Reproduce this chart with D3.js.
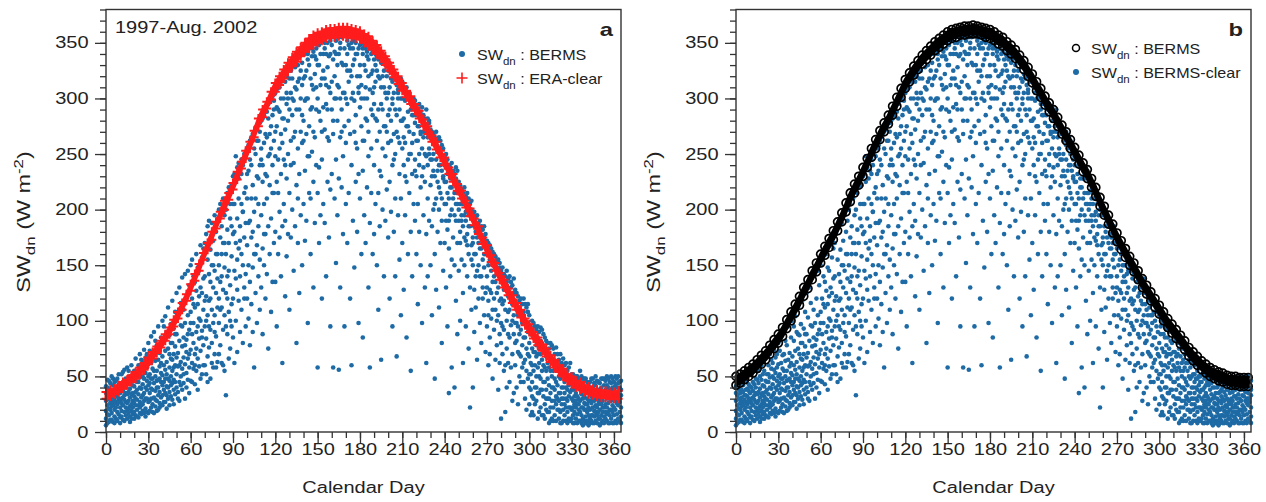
<!DOCTYPE html>
<html>
<head>
<meta charset="utf-8">
<script src="https://cdn.jsdelivr.net/npm/d3@7"></script>
<style>
  body { margin: 0; background: #fff; }
  svg text { font-family: "Liberation Sans", Arial, Helvetica, sans-serif; fill: #222; }
</style>
</head>
<body>
<svg id="chart" width="1266" height="502"></svg>
<script>
// observed daily SWdn at BERMS, one row per calendar day (index = day), one value per year
const BERMS_SW = [
  [12,28,41,19,35,6],[33,8,24,47,16,40],[21,38,15,30,46,9],[44,26,11,35,20,29],[17,31,50,23,38,11],[9,36,27,42,24,48],[29,14,45,20,8,33],[38,22,33,12,46,27],[25,48,18,39,10,32],[16,30,43,27,37,52],
  [22,41,13,35,8,29],[30,52,19,26,40,14],[45,11,37,24,31,54],[18,33,56,29,10,43],[40,15,27,48,22,35],[26,58,34,12,47,19],[36,21,44,17,28,55],[14,31,50,39,23,9],[47,25,19,60,34,12],[28,42,16,35,52,22],
  [32,55,18,41,26,12],[24,46,66,15,36,30],[38,20,52,29,45,14],[60,34,13,45,24,52],[27,49,70,22,40,17],[16,39,57,31,65,24],[43,25,62,19,33,50],[35,74,28,48,17,56],[21,53,40,67,30,14],[46,30,18,58,38,70],
  [27,61,42,80,50,17],[35,19,52,73,28,44],[48,86,30,22,62,39],[57,38,69,25,18,48],[31,44,90,17,55,70],[64,23,50,37,29,82],[40,78,28,55,46,19],[20,47,95,33,65,40],[59,36,71,26,22,48],[45,85,24,62,31,53],
  [33,68,51,100,42,24],[27,45,82,38,60,95],[56,104,35,73,27,48],[41,21,63,90,52,33],[75,48,30,112,40,88],[36,58,87,24,70,46],[66,42,97,50,32,80],[29,80,55,118,44,65],[47,70,38,93,25,58],[60,34,108,77,88,45],
  [52,88,125,40,67],[71,36,103,59,30],[45,130,82,28,60],[96,63,116,50,42],[38,77,139,57,95],[110,44,85,67,52],[61,142,30,98,78],[83,53,120,72,40],[47,105,145,66,88],[92,58,132,35,70],
  [74,150,108,46,98],[120,62,88,155,45],[57,98,140,80,115],[135,70,112,43,60],[90,160,55,127,75],[66,115,148,38,95],[145,84,102,59,122],[100,168,73,130,48],[52,125,91,157,85],[138,78,110,165,60],
  [95,170,60,140,118],[122,84,178,52,100],[155,105,68,185,45],[76,142,190,118,95],[164,92,135,48,120],[110,188,80,150,62],[58,130,172,98,150],[145,195,105,70,90],[125,86,180,160,58],[190,63,138,112,160],
  [150,98,200,120,70],[78,175,135,205,110],[185,112,62,160,140],[128,210,92,170,60],[55,148,195,105,170],[200,33,160,125,95],[140,215,88,182,120],[108,170,220,66,145],[192,132,75,205,100],[158,222,115,95,185],
  [178,230,120,85,205],[145,205,232,62,180],[225,100,170,138,248],[192,238,155,72,128],[118,210,242,165,228],[235,90,185,140,172],[160,245,205,110,232],[80,198,150,240,198],[215,130,250,175,120],[188,248,95,142,220],
  [255,168,120,210,232],[102,235,258,150,188],[190,262,135,78,245],[240,175,265,115,210],[148,222,90,268,180],[270,198,160,58,255],[125,250,210,272,160],[230,168,275,98,262],[262,140,205,185,228],[110,278,240,155,270],
  [280,195,130,245,255],[225,282,165,88,240],[150,260,285,205,178],[290,178,232,120,268],[210,288,142,265,230],[75,248,295,185,282],[268,160,222,298,250],[192,300,255,108,275],[240,135,285,302,215],[298,215,170,262,290],
  [305,248,180,135,270],[225,308,275,95,292],[160,290,312,215,245],[310,198,255,288,175],[268,315,140,232,300],[185,282,318,62,260],[300,245,205,320,282],[122,272,315,190,240],[320,228,295,158,305],[250,325,178,300,280],
  [290,330,215,110,318],[325,262,175,305,240],[200,318,285,332,300],[335,145,242,298,265],[270,328,310,185,335],[308,222,338,80,290],[255,315,170,330,210],[338,290,232,125,318],[195,325,340,270,300],[312,260,332,150,285],
  [340,280,205,318,262],[298,345,235,172,320],[325,190,342,268,300],[248,335,300,98,340],[345,275,215,330,248],[210,318,348,160,290],[338,292,252,345,312],[130,342,308,225,270],[350,265,322,188,338],[290,345,240,335,310],
  [352,300,215,58,330],[238,348,330,170,288],[340,280,354,195,312],[318,352,245,120,270],[355,205,325,292,340],[272,345,188,350,318],[340,312,355,140,295],[225,350,290,328,265],[356,262,338,175,310],[305,352,218,95,340],
  [348,290,232,355,315],[58,335,356,268,280],[320,355,210,300,342],[352,245,340,152,300],[280,358,312,195,330],[340,56,355,228,310],[300,350,265,130,345],[355,220,332,290,270],[248,356,305,178,330],[345,275,358,95,305],
  [330,356,260,205,300],[352,295,170,340,325],[215,348,315,355,280],[356,268,120,325,345],[300,350,240,60,320],[345,190,330,354,305],[270,352,298,148,335],[350,225,340,285,260],[320,355,180,255,340],[232,345,305,98,310],
  [348,292,210,330,320],[275,350,160,312,300],[340,235,345,85,262],[300,348,262,195,330],[345,170,325,282,310],[220,338,300,342,280],[335,270,130,248,320],[308,345,188,58,345],[340,255,322,215,290],[285,342,160,305,325],
  [335,240,310,178,295],[205,340,282,330,315],[325,150,338,262,280],[290,335,215,110,320],[338,270,318,185,235],[230,332,295,65,310],[320,200,335,255,290],[338,275,140,310,325],[248,330,305,190,275],[335,218,320,270,300],
  [325,260,175,305,285],[290,332,225,120,310],[318,198,280,328,262],[240,315,95,295,300],[322,268,305,180,245],[210,318,250,140,290],[312,285,320,68,270],[265,308,195,300,305],[315,232,290,155,260],[280,318,210,105,300],
  [300,255,315,170,280],[240,310,282,128,265],[305,195,298,260,230],[275,310,225,85,300],[300,160,288,245,275],[215,302,270,305,250],[295,250,180,55,290],[285,300,232,140,260],[205,295,268,300,285],[298,245,190,278,235],
  [285,230,160,292,262],[262,290,205,115,275],[295,180,275,240,250],[220,288,150,268,270],[280,255,292,98,230],[238,285,195,270,265],[275,130,282,225,250],[290,248,178,62,270],[265,282,210,140,240],[278,190,250,280,255],
  [268,222,272,150,245],[245,270,185,105,230],[262,200,268,235,250],[230,265,160,48,205],[270,245,210,128,258],[255,180,262,225,235],[240,265,112,200,220],[262,215,250,170,240],[190,258,235,80,210],[255,228,145,245,230],
  [248,205,170,240,225],[225,250,130,190,205],[245,182,232,95,215],[210,240,35,165,190],[238,195,228,140,220],[220,242,155,58,200],[235,175,210,228,228],[195,232,40,150,215],[228,205,238,118,190],[215,235,170,88,205],
  [225,190,145,215,200],[205,222,170,100,180],[218,155,210,190,195],[185,215,125,62,205],[210,195,220,150,175],[172,212,95,198,190],[205,140,215,178,168],[195,210,160,75,185],[22,205,185,130,200],[200,168,208,110,155],
  [195,40,170,150,175],[185,198,128,90,160],[192,160,180,112,140],[145,195,175,65,185],[188,170,120,185,150],[178,190,140,98,165],[165,185,80,175,140],[182,130,170,155,120],[175,185,105,148,160],[160,178,125,72,170],
  [172,140,165,95,130],[150,170,118,60,105],[168,128,155,85,70],[145,165,102,160,125],[162,135,150,48,110],[120,160,140,92,150],[158,110,150,135,65],[142,155,78,125,100],[155,130,105,38,145],[148,118,152,88,62],
  [145,12,120,98,80],[138,148,70,115,95],[128,142,92,55,118],[140,18,110,130,60],[135,100,145,75,40],[122,138,62,108,88],[140,85,125,45,110],[118,135,96,130,58],[132,70,115,28,100],[125,138,88,105,35],
  [128,98,60,115,80],[110,125,82,40,98],[122,72,105,95,25],[118,88,50,112,70],[105,120,68,92,45],[115,58,98,78,105],[120,85,45,108,62],[100,115,65,30,85],[112,75,95,55,20],[108,48,90,115,70],
  [105,80,52,25,68,40],[95,62,38,88,15,52],[100,45,75,18,60,32],[88,98,55,30,72,15],[72,95,40,60,25,85],[92,28,68,50,78,40],[85,58,95,12,35,70],[62,90,35,75,18,50],[94,48,70,22,82,38],[80,38,92,55,15,65],
  [88,60,32,15,45,72],[72,45,85,25,12,58],[55,82,38,20,68,30],[80,30,62,48,18,70],[42,75,18,58,30,8],[68,35,80,10,55,22],[50,78,28,40,12,62],[75,22,55,65,40,10],[38,70,15,48,28,58],[62,32,76,25,45,10],
  [70,42,20,55,30,62],[35,65,28,12,50,20],[58,18,48,70,35,8],[25,62,40,8,50,30],[52,30,66,20,40,10],[15,45,35,60,25,52],[40,62,22,10,48,30],[55,28,48,18,38,8],[32,58,12,42,22,50],[22,50,36,62,10,45],
  [45,20,30,12,38,52],[28,52,15,38,8,22],[18,40,25,8,48,32],[35,12,50,22,28,42],[25,45,16,32,8,50],[10,30,42,20,25,48],[38,18,28,55,10,45],[15,34,8,44,22,50],[30,22,48,12,40,6],[20,40,26,10,48,32],
  [35,14,25,48,20,8],[18,30,10,40,45,25],[42,22,35,6,15,28],[12,28,45,20,36,8],[26,38,15,32,48,10],[8,22,48,30,40,15],[36,14,28,19,44,8],[24,42,10,33,18,50],[15,30,46,22,8,38],[38,18,28,12,25,45],
  [20,35,12,44,28,6],[30,15,40,25,48,8],[10,28,48,18,36,22],[42,22,32,14,8,48],[25,38,12,46,32,18],[16,30,42,22,10,50],[34,8,26,40,18,48],[20,45,30,15,38,8],[28,12,38,50,20,44],[40,24,18,33,8,48],
  [15,32,45,22,38,8],[36,20,10,42,28,50],[26,48,30,16,8,40],[12,35,24,44,30,50],[30,18,40,27,10,45],[22,38,14,46,33,8]
];

// clear-sky band, sampled every 3 calendar days (upper and lower edge of the band)
const CLEAR_DAYS = d3.range(0, 366, 3);
const ERA_CLEAR_HI = [36,38,39,42,45,47,51,54,58,62,67,72,77,82,88,94,101,108,116,124,133,142,151,161,170,180,189,198,208,215,224,234,243,253,261,271,282,290,297,306,314,320,326,332,337,342,346,350,354,357,359,360,362,363,363,364,364,364,363,362,361,358,356,352,348,343,338,332,326,320,314,307,302,295,289,281,275,267,261,253,247,238,232,223,217,208,201,192,185,175,168,159,152,143,137,129,123,116,110,102,97,90,85,79,75,69,65,60,57,52,50,46,45,42,41,39,38,37,37,36,36,37];
const ERA_CLEAR_LO = [30,32,34,36,39,42,45,48,52,56,61,66,71,76,82,88,95,102,110,118,127,136,145,155,164,173,183,192,200,209,218,227,237,246,255,265,275,283,291,299,306,312,318,324,329,333,338,342,345,348,350,352,354,355,355,356,356,355,355,354,353,350,347,344,340,336,330,325,319,313,307,301,295,289,282,275,268,261,254,247,240,232,225,217,210,202,194,186,178,169,161,153,145,137,130,123,116,110,103,96,90,84,78,73,68,63,58,54,50,46,43,40,38,36,34,33,32,31,31,30,30,30];
const BERMS_CLEAR_HI = [50,52,55,58,61,65,69,73,78,83,88,94,101,108,115,122,130,137,145,152,160,167,174,181,189,197,206,215,223,230,238,246,255,263,271,278,285,293,301,309,317,323,329,334,339,343,347,351,354,357,360,362,363,364,365,365,366,365,364,363,362,360,357,355,351,348,344,339,334,328,322,315,309,302,296,290,283,276,270,263,256,249,242,236,228,220,211,203,195,187,179,172,165,158,152,145,138,132,126,120,114,108,102,97,92,87,82,76,72,68,64,61,58,56,54,53,51,50,50,49,49,49];
const BERMS_CLEAR_LO = [42,44,47,50,53,57,61,65,70,75,80,86,93,100,107,114,122,129,137,144,152,159,166,173,181,189,198,207,215,222,230,238,247,255,263,270,277,285,293,301,309,315,321,326,331,335,339,343,346,349,352,354,355,357,357,358,358,358,357,355,354,352,349,347,343,340,336,331,326,320,314,307,301,294,288,282,275,268,262,255,248,241,234,228,220,212,203,195,187,179,171,164,157,150,144,137,130,124,118,112,106,100,94,89,84,79,74,68,64,60,56,53,50,48,46,45,43,42,42,41,41,41];

const X_TICKS = [0, 30, 60, 90, 120, 150, 180, 210, 240, 270, 300, 330, 360];
const X_MINOR = d3.range(0, 361, 10);
const Y_TICKS = [0, 50, 100, 150, 200, 250, 300, 350];
const Y_MINOR = d3.range(0, 381, 10);

const BLUE = "#1d6aa5";
const RED = "#ff1c1c";
const STRETCH = "scale(1.25,1)";

const svg = d3.select("#chart");
const Y_SCALE = d3.scaleLinear().domain([0, 380]).range([432, 9.5]);

const PANELS = [
  {letter: "a", left: 106, right: 621, hi: ERA_CLEAR_HI, lo: ERA_CLEAR_LO, clear: "cross", color: RED,
   legend: [{mark: "dot", label: ": BERMS"}, {mark: "cross", label: ": ERA-clear"}], legX: 462, legY: 0, note: "1997-Aug. 2002"},
  {letter: "b", left: 736, right: 1251, hi: BERMS_CLEAR_HI, lo: BERMS_CLEAR_LO, clear: "ring", color: "#000",
   legend: [{mark: "ring", label: ": BERMS"}, {mark: "dot", label: ": BERMS-clear"}], legX: 1076, legY: -6}
];

const obs = BERMS_SW.flatMap((vals, day) => vals.map(v => ({day: day, v: v})));

function drawMark(sel, type) {
  if (type === "cross") {
    sel.append("path").attr("d", "M-4.5,0H4.5M0,-4.5V4.5")
      .attr("stroke", RED).attr("stroke-width", 2).attr("fill", "none");
  } else if (type === "ring") {
    sel.append("circle").attr("r", 4)
      .attr("stroke", "#000").attr("stroke-width", 1.7).attr("fill", "none");
  } else {
    sel.append("circle").attr("r", 2.2).attr("fill", BLUE);
  }
}

PANELS.forEach((p) => {
  const X_SCALE = d3.scaleLinear().domain([0, 365]).range([p.left, p.right]);
  const g = svg.append("g");

  // observed points
  g.append("g").selectAll("circle")
    .data(obs)
    .join("circle")
      .attr("cx", (d) => X_SCALE(d.day))
      .attr("cy", (d) => Y_SCALE(d.v))
      .attr("r", 2.3)
      .attr("fill", BLUE);

  // clear-sky band: filled core plus markers at both edges
  const band = CLEAR_DAYS.map((day, i) => ({day: day, hi: p.hi[i], lo: p.lo[i]}));
  g.append("path")
    .datum(band)
    .attr("fill", p.color)
    .attr("stroke", p.color)
    .attr("stroke-width", 3)
    .attr("d", d3.area()
      .x((d) => X_SCALE(d.day))
      .y0((d) => Y_SCALE(d.lo))
      .y1((d) => Y_SCALE(d.hi))
      .curve(d3.curveMonotoneX));

  const clear = band.flatMap((d) => [{day: d.day, v: d.hi}, {day: d.day, v: d.lo}]);
  g.append("g").selectAll("g")
    .data(clear)
    .join("g")
      .attr("transform", (d) => "translate(" + X_SCALE(d.day) + "," + Y_SCALE(d.v) + ")")
      .each(function() { drawMark(d3.select(this), p.clear); });

  // frame
  g.append("rect")
    .attr("x", p.left).attr("y", Y_SCALE(380))
    .attr("width", p.right - p.left).attr("height", Y_SCALE(0) - Y_SCALE(380))
    .attr("fill", "none").attr("stroke", "#333").attr("stroke-width", 1.4);

  // y axis
  const yMinor = g.append("g").attr("transform", "translate(" + p.left + ",0)")
    .call(d3.axisLeft(Y_SCALE).tickValues(Y_MINOR).tickSize(6).tickFormat(""));
  const yAxis = g.append("g").attr("transform", "translate(" + p.left + ",0)")
    .call(d3.axisLeft(Y_SCALE).tickValues(Y_TICKS).tickSize(11).tickPadding(3));
  yAxis.selectAll("text").attr("font-size", 16).attr("transform", STRETCH);

  // x axis
  const xMinor = g.append("g").attr("transform", "translate(0," + Y_SCALE(0) + ")")
    .call(d3.axisBottom(X_SCALE).tickValues(X_MINOR).tickSize(6).tickFormat(""));
  const xAxis = g.append("g").attr("transform", "translate(0," + Y_SCALE(0) + ")")
    .call(d3.axisBottom(X_SCALE).tickValues(X_TICKS).tickSize(11).tickPadding(1));
  xAxis.selectAll("text").attr("font-size", 16).attr("transform", STRETCH);

  [yMinor, yAxis, xMinor, xAxis].forEach((a) => {
    a.select(".domain").remove();
    a.selectAll("line").attr("stroke", "#333").attr("stroke-width", 1.3);
  });

  // axis titles
  g.append("text")
    .attr("transform", "translate(" + ((p.left + p.right) / 2) + ",493) " + STRETCH)
    .attr("text-anchor", "middle").attr("font-size", 16)
    .text("Calendar Day");

  const yt = g.append("text")
    .attr("transform", "translate(" + (p.left - 76) + ",222) rotate(-90) scale(1.3,1)")
    .attr("text-anchor", "middle").attr("font-size", 18);
  yt.append("tspan").text("SW");
  yt.append("tspan").attr("font-size", 13).attr("dy", 5).text("dn");
  yt.append("tspan").attr("dy", -5).text(" (W m");
  yt.append("tspan").attr("font-size", 13).attr("dy", -7).text("-2");
  yt.append("tspan").attr("dy", 7).text(")");

  // panel letter
  g.append("text")
    .attr("transform", "translate(" + (p.right - 8) + ",36) " + STRETCH)
    .attr("text-anchor", "end").attr("font-size", 19).attr("font-weight", "bold")
    .text(p.letter);

  if (p.note) {
    g.append("text")
      .attr("transform", "translate(" + (p.left + 9) + ",33) " + STRETCH)
      .attr("font-size", 16)
      .text(p.note);
  }

  // legend
  p.legend.forEach((item, i) => {
    const cy = 54 + p.legY + i * 24;
    const m = g.append("g").attr("transform", "translate(" + p.legX + "," + cy + ")");
    if (item.mark === "cross") {
      m.append("path").attr("d", "M-5.5,0H5.5M0,-5.5V5.5")
        .attr("stroke", RED).attr("stroke-width", 1.6);
    } else if (item.mark === "ring") {
      m.append("circle").attr("r", 3.5).attr("fill", "none")
        .attr("stroke", "#000").attr("stroke-width", 1.5);
    } else {
      m.append("circle").attr("r", 3).attr("fill", BLUE);
    }
    const t = g.append("text")
      .attr("transform", "translate(" + (p.legX + 15) + "," + (cy + 6) + ") scale(1.15,1)")
      .attr("font-size", 14);
    t.append("tspan").text("SW");
    t.append("tspan").attr("font-size", 10).attr("dy", 5).text("dn");
    t.append("tspan").attr("dy", -5).text(" " + item.label);
  });
});
</script>
</body>
</html>
